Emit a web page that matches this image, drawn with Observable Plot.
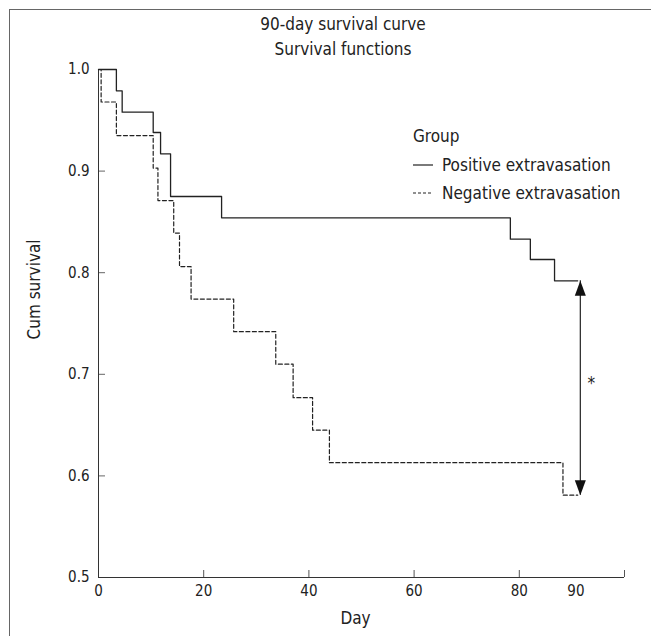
<!DOCTYPE html>
<html>
<head>
<meta charset="utf-8">
<script src="https://cdn.jsdelivr.net/npm/d3@7"></script>
<script src="https://cdn.jsdelivr.net/npm/@observablehq/plot@0.6"></script>
<style>
  html, body { margin: 0; padding: 0; background: #fff; }
  #wrap { position: relative; width: 651px; height: 636px; overflow: hidden;
    font-family: "Liberation Sans Narrow", "DejaVu Sans Condensed", sans-serif; color: #222; }
  #frame { position: absolute; left: 9px; top: 9px; width: 700px; height: 700px;
    border-left: 1px solid #666; border-top: 1px solid #666; }
  .t { position: absolute; font-size: 17px; white-space: nowrap; line-height: 1; }
  #title { left: 343px; top: 16px; transform: translateX(-50%); }
  #subtitle { left: 343px; top: 41px; transform: translateX(-50%); }
  #lg { position: absolute; left: 413px; top: 121px; font-size: 17px; }
  #lg .row { display: flex; align-items: center; height: 28px; white-space: nowrap; }
  #lg .row.first { height: 30px; }
  #lg svg { margin-right: 9px; }
  #chart { position: absolute; left: 0; top: 0; }
</style>
</head>
<body>
<div id="wrap">
  <div id="frame"></div>
  <div id="chart"></div>
  <div class="t" id="title">90-day survival curve</div>
  <div class="t" id="subtitle">Survival functions</div>
  <div id="lg"></div>
</div>
<script>
// Kaplan-Meier step data
const posDays = [0, 3.4, 4.5, 10.4, 11.8, 13.7, 23.4, 78.3, 82.1, 86.7, 91.1];
const posSurv = [1.0, 0.979, 0.958, 0.938, 0.917, 0.875, 0.854, 0.833, 0.813, 0.792, 0.792];
const negDays = [0, 0.5, 3.4, 10.4, 11.3, 14.3, 15.4, 17.6, 25.7, 33.7, 37.0, 40.7, 43.9, 88.3, 91.1];
const negSurv = [1.0, 0.968, 0.935, 0.903, 0.871, 0.839, 0.806, 0.774, 0.742, 0.710, 0.677, 0.645, 0.613, 0.581, 0.581];

const groups = ["Positive extravasation", "Negative extravasation"];
const xTickMarks = [0, 20, 40, 60, 80, 100];
const xTickLabels = [0, 20, 40, 60, 80, 90];
const yTicks = [0.5, 0.6, 0.7, 0.8, 0.9, 1.0];

// annotation: difference arrow at end of follow-up
const arrowDay = [91.6];
const arrowTop = [0.792];
const arrowBottom = [0.581];
const starY = [0.691];

const pos = posDays.map((d, i) => ({day: d, s: posSurv[i]}));
const neg = negDays.map((d, i) => ({day: d, s: negSurv[i]}));
const arrowRows = arrowDay.map((d, i) => ({day: d, top: arrowTop[i], bottom: arrowBottom[i], star: starY[i]}));

const headShape = {
  draw(context, l) {
    context.moveTo(-5.5, 0);
    context.lineTo(0, -l);
    context.lineTo(5.5, 0);
    context.closePath();
  }
};

const font = '"Liberation Sans Narrow", "DejaVu Sans Condensed", sans-serif';

const chart = Plot.plot({
  width: 651,
  height: 636,
  marginLeft: 98,
  marginRight: 27,
  marginTop: 69,
  marginBottom: 59,
  style: {fontFamily: font, fontSize: "15px", color: "#222", background: "transparent"},
  x: {domain: [0, 100]},
  y: {domain: [0.5, 1.0]},
  marks: [
    Plot.axisX({ticks: xTickMarks, tickSize: -7, tickFormat: () => "", stroke: "#555", label: null}),
    Plot.axisX({ticks: xTickLabels.filter(d => d !== 90), tickSize: 0, tickPadding: 8, tickFormat: d => String(d), label: null, fontSize: 15}),
    Plot.axisX({ticks: xTickLabels.filter(d => d === 90), tickSize: 0, tickPadding: 8, tickFormat: d => String(d), label: null, fontSize: 15, dx: 4}),
    Plot.axisY({ticks: yTicks, tickSize: -7, tickFormat: () => "", stroke: "#666", label: null}),
    Plot.axisY({ticks: yTicks, tickSize: 0, tickPadding: 9, tickFormat: d3.format(".1f"), label: null, fontSize: 15}),
    Plot.ruleY([0.5], {stroke: "#333"}),
    Plot.ruleX([0], {stroke: "#333"}),
    Plot.line(pos, {x: "day", y: "s", curve: "step-after", stroke: "#222", strokeWidth: 1.3}),
    Plot.line(neg, {x: "day", y: "s", curve: "step-after", stroke: "#222", strokeWidth: 1.2, strokeDasharray: "4,2.5"}),
    Plot.ruleX(arrowRows, {x: "day", y1: "bottom", y2: "top", stroke: "#222", strokeWidth: 1.2}),
    Plot.vector(arrowRows, {x: "day", y: "top", length: 15, anchor: "end", rotate: 0, shape: headShape, fill: "#111", stroke: "none"}),
    Plot.vector(arrowRows, {x: "day", y: "bottom", length: 15, anchor: "end", rotate: 180, shape: headShape, fill: "#111", stroke: "none"}),
    Plot.text(arrowRows, {x: "day", y: "star", text: () => "*", dx: 11, fontSize: 17, fill: "#222"}),
    Plot.text(["Cum survival"], {frameAnchor: "left", text: d => d, rotate: -90, dx: -64, dy: 16, fontSize: 17, fill: "#222"}),
    Plot.text(["Day"], {frameAnchor: "bottom", text: d => d, dy: 46, dx: -6, fontSize: 17, fill: "#222"})
  ]
});
document.getElementById("chart").appendChild(chart);

// legend
const lg = document.getElementById("lg");
const head = document.createElement("div");
head.className = "row first";
head.textContent = "Group";
lg.appendChild(head);
groups.forEach((g, i) => {
  const row = document.createElement("div");
  row.className = "row";
  const dash = i === 1 ? 'stroke-dasharray="3,2"' : '';
  row.innerHTML = `<svg width="20" height="10"><line x1="0" x2="20" y1="5" y2="5" stroke="#222" stroke-width="1.2" ${dash}/></svg><span>${g}</span>`;
  lg.appendChild(row);
});
</script>
</body>
</html>
